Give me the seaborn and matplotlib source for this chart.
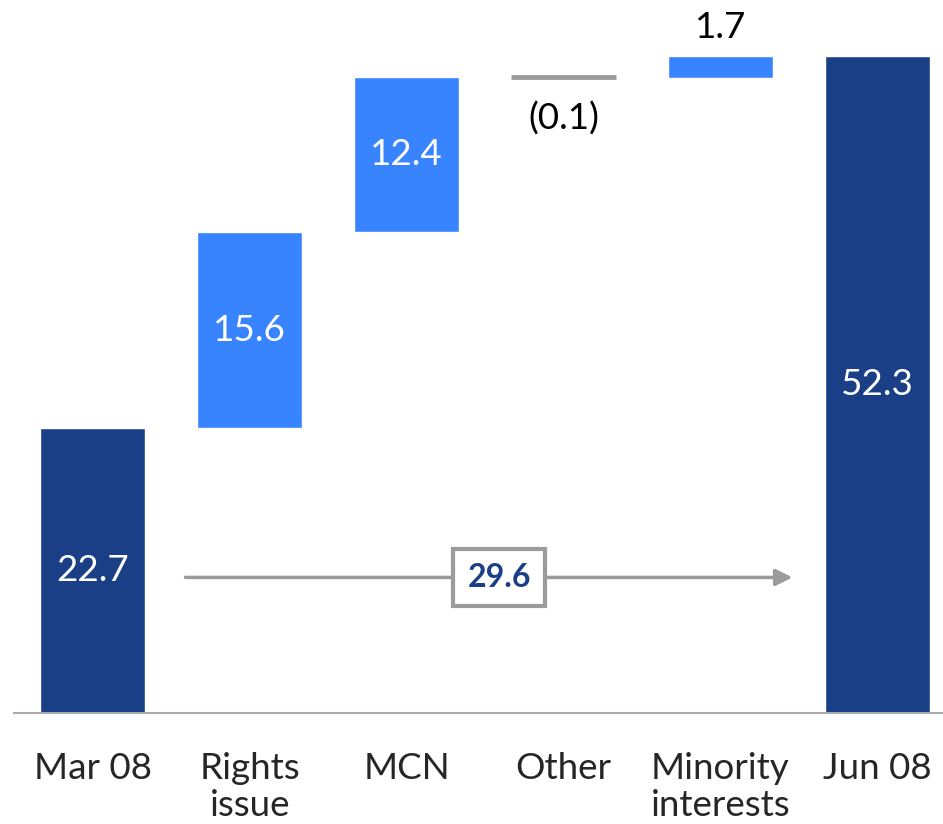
import matplotlib
matplotlib.use('Agg')

import matplotlib.pyplot as plt
import seaborn as sns
import pandas as pd
import numpy as np

# waterfall data
categories = ['Mar 08', 'Rights\nissue', 'MCN', 'Other', 'Minority\ninterests', 'Jun 08']
changes = [22.7, 15.6, 12.4, -0.1, 1.7, 52.3]
labels = ['22.7', '15.6', '12.4', '(0.1)', '1.7', '52.3']
kinds = ['total', 'step', 'step', 'step', 'step', 'total']
total_change = 29.6

DARK = '#1B3F86'
BRIGHT = '#3884FF'
GREY = '#9B9B9B'


def waterfall(changes, kinds):
    bottoms, tops = [], []
    run = 0.0
    for c, k in zip(changes, kinds):
        if k == 'total':
            bottoms.append(0.0)
            tops.append(c)
            run = c
        else:
            lo, hi = sorted([run, run + c])
            bottoms.append(lo)
            tops.append(hi)
            run = run + c
    return np.array(bottoms), np.array(tops)


def main():
    sns.set_style('white')
    plt.rcParams['font.family'] = ['Lato', 'DejaVu Sans']

    bottoms, tops = waterfall(changes, kinds)
    df = pd.DataFrame({'cat': categories, 'bottom': bottoms, 'top': tops,
                       'change': changes, 'label': labels, 'kind': kinds})
    colors = [DARK if k == 'total' else (GREY if c < 0 else BRIGHT)
              for k, c in zip(kinds, changes)]

    fig = plt.figure(figsize=(9.43, 8.24), dpi=100)
    ax = fig.add_axes([14 / 943, 111 / 824, 929 / 943, 713 / 824])

    sns.barplot(data=df, x='cat', y='top', hue='cat', palette=colors,
                legend=False, width=0.67, ax=ax, saturation=1)
    # white base bars to hide the part below each floating step
    sns.barplot(data=df, x='cat', y='bottom', color='white', width=0.69,
                ax=ax, saturation=1)

    # the tiny negative step is drawn as a grey line
    i_neg = [i for i, c in enumerate(changes) if c < 0][0]
    ax.plot([i_neg - 0.335, i_neg + 0.335], [tops[i_neg]] * 2,
            color=GREY, lw=3.5, solid_capstyle='butt')

    for i, row in df.iterrows():
        h = row['top'] - row['bottom']
        if h > 5:
            ax.text(i, (row['top'] + row['bottom']) / 2, row['label'],
                    ha='center', va='center', color='white', fontsize=26.5)
        elif row['change'] < 0:
            ax.text(i, row['bottom'] - 1.9, row['label'], ha='center',
                    va='top', color='black', fontsize=26.5)
        else:
            ax.text(i, row['top'] + 1.0, row['label'], ha='center',
                    va='bottom', color='black', fontsize=26.5)

    # total change arrow
    y_arr = 10.8
    ax.annotate('', xy=(4.46, y_arr), xytext=(0.59, y_arr),
                arrowprops=dict(arrowstyle='-|>', color=GREY, lw=2.5,
                                mutation_scale=25, shrinkA=0, shrinkB=0))
    ax.text(2.59, y_arr, f'{total_change:.1f}', ha='center', va='center',
            color=DARK, fontsize=23, fontweight='bold',
            bbox=dict(boxstyle='square,pad=0.45', fc='white', ec=GREY, lw=3))

    ax.set_xlim(-0.503, 5.42)
    ax.set_ylim(0, 56.8)
    ax.set_xlabel('')
    ax.set_ylabel('')
    ax.set_yticks([])
    ax.tick_params(axis='x', length=0, labelsize=26.5, pad=28)
    for t in ax.get_xticklabels():
        t.set_linespacing(1.15)
    for s in ['top', 'right', 'left']:
        ax.spines[s].set_visible(False)
    ax.spines['bottom'].set_color('#AAAAAA')
    ax.spines['bottom'].set_linewidth(1.5)

    fig.savefig('out.png', dpi=100)


if __name__ == "__main__":
    main()
